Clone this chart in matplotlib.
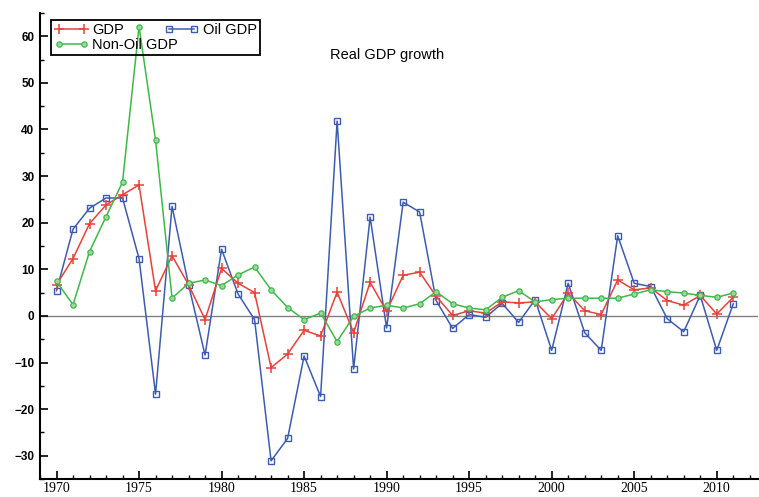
import matplotlib
matplotlib.use('Agg')
import matplotlib.pyplot as plt
from matplotlib.ticker import MultipleLocator
import numpy as np

years = list(range(1970, 2012))

gdp = [6.7, 12.3, 19.8, 23.8, 26.0, 28.1, 5.4, 12.9, 6.7, -0.8,
       10.2, 7.0, 5.0, -11.1, -8.2, -3.1, -4.3, 5.1, -3.6, 7.2,
       1.0, 8.7, 9.4, 4.2, 0.1, 1.1, 0.6, 3.0, 2.8, 3.0,
       -0.6, 4.9, 1.1, 0.3, 7.7, 5.6, 6.0, 3.3, 2.3, 4.4,
       0.4, 4.0]
oil_gdp = [5.4, 18.6, 23.1, 25.3, 25.3, 12.3, -16.8, 23.5, 6.7, -8.4,
           14.3, 4.7, -0.8, -31.1, -26.3, -8.6, -17.3, 41.8, -11.4, 21.2,
           -2.6, 24.4, 22.3, 3.3, -2.7, 0.3, -0.3, 2.7, -1.4, 3.5,
           -7.4, 7.0, -3.6, -7.4, 17.2, 7.0, 6.3, -0.6, -3.4, 4.4,
           -7.4, 2.6]
non_oil_gdp = [7.4, 2.4, 13.8, 21.3, 28.7, 62.1, 37.7, 3.8, 7.0, 7.7,
               6.5, 8.8, 10.5, 5.6, 1.8, -0.8, 0.6, -5.5, -0.1, 1.7,
               2.3, 1.7, 2.6, 5.2, 2.6, 1.7, 1.3, 4.0, 5.4, 3.0,
               3.5, 3.8, 3.8, 3.8, 3.8, 4.7, 5.6, 5.2, 4.9, 4.4,
               4.0, 4.9]

fig = plt.figure(figsize=(7.59, 4.97), dpi=100)
# bottom raised a little so the year labels fit inside the image
ax = fig.add_axes([40 / 759, 18 / 497, 718 / 759, 466 / 497])

red = '#e8403a'
blue = '#3d5cb0'
green = '#3fb84a'

ax.axhline(0, color='#808080', lw=1.0, zorder=1)
l_gdp, = ax.plot(years, gdp, color=red, lw=1.1, marker='+', ms=7, mew=1.1, label='GDP', zorder=3)
l_oil, = ax.plot(years, oil_gdp, color=blue, lw=1.1, marker='s', ms=5, mfc='none', mew=1.0,
                 label='Oil GDP', zorder=2)
l_non, = ax.plot(years, non_oil_gdp, color=green, lw=1.1, marker='o', ms=3.8, mfc='#9ad89f',
                 mew=0.9, label='Non-Oil GDP', zorder=4)

ax.set_xlim(1969, 2012.5)
ax.set_ylim(-35, 65)

for s in ['top', 'right']:
    ax.spines[s].set_visible(False)
for s in ['left', 'bottom']:
    ax.spines[s].set_linewidth(1.5)

ax.xaxis.set_major_locator(MultipleLocator(5))
ax.xaxis.set_minor_locator(MultipleLocator(1))
ax.yaxis.set_major_locator(MultipleLocator(10))
ax.yaxis.set_minor_locator(MultipleLocator(5))
ax.tick_params(which='major', direction='in', length=6, width=1.2)
ax.tick_params(which='minor', direction='in', length=3, width=1.0)
ax.tick_params(axis='x', pad=2)
ax.tick_params(axis='y', pad=4)

for lab in ax.get_xticklabels():
    lab.set_fontfamily('Liberation Serif')
    lab.set_fontsize(10)
for lab in ax.get_yticklabels():
    lab.set_fontfamily('Liberation Sans')
    lab.set_fontsize(8.5)
    lab.set_fontweight('bold')

ax.text(1990, 56, 'Real GDP growth', fontsize=10.5, family='Liberation Sans',
        ha='center', va='center')

# column-wise fill: GDP / Non-Oil in col 1, Oil GDP in col 2
leg = ax.legend([l_gdp, l_non, l_oil], ['GDP', 'Non-Oil GDP', 'Oil GDP'],
                loc='upper left', bbox_to_anchor=(0.016, 0.985), borderaxespad=0,
                ncol=2, numpoints=2, fancybox=False,
                prop={'family': 'Liberation Sans', 'size': 10.5},
                handlelength=2.3, columnspacing=-0.9, handletextpad=0.3,
                borderpad=0.2, labelspacing=0.1)
frame = leg.get_frame()
frame.set_facecolor('none')
frame.set_edgecolor('black')
frame.set_alpha(1)
frame.set_linewidth(1.3)

fig.savefig('out.png', dpi=100)
